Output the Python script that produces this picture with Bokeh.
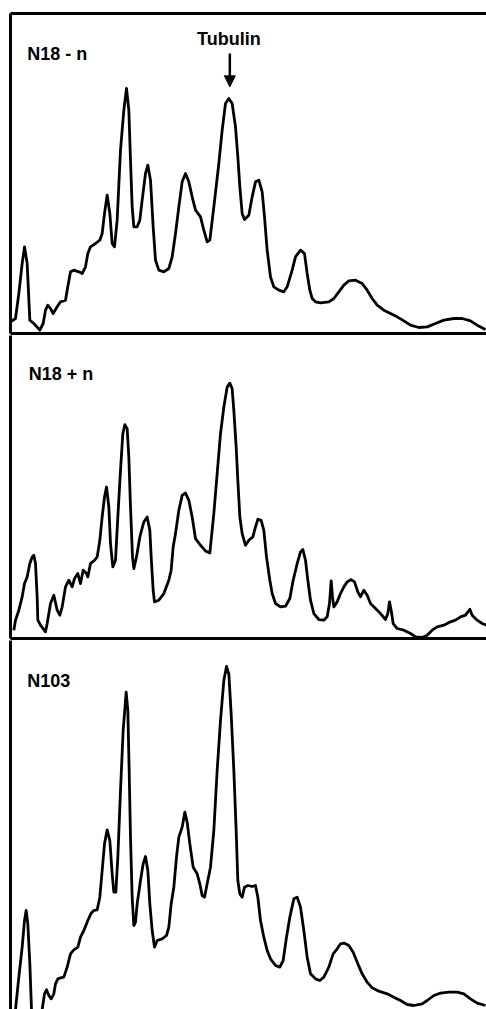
from bokeh.plotting import figure
from bokeh.layouts import column
from bokeh.models import LinearAxis, FixedTicker, Arrow, NormalHead, Range1d
from bokeh.core.properties import value
from bokeh.embed import file_html
from bokeh.resources import INLINE

# --- densitometer traces (position along gel, absorbance in arbitrary units) ---
n18_minus_x = [30, 45, 55, 65, 72, 80, 88, 100, 118, 128, 135, 142, 150, 158, 170, 180, 195, 200, 210, 220,
               235, 245, 255, 262, 270, 285, 298, 305, 312, 320, 328, 335, 342, 350, 360, 370, 378, 385, 390, 395,
               400, 410, 418, 425, 435, 442, 450, 458, 465, 475, 490, 505, 515, 525, 535, 545, 555, 565, 575, 585,
               600, 610, 620, 628, 640, 655, 665, 675, 685, 695, 705, 712, 718, 725, 732, 745, 755, 765, 775, 785,
               792, 800, 810, 820, 835, 850, 860, 875, 885, 900, 912, 920, 928, 935, 945, 960, 985, 1000, 1015, 1030,
               1045, 1065, 1085, 1100, 1115, 1130, 1150, 1170, 1190, 1210, 1230, 1255, 1280, 1305, 1330, 1360, 1385, 1410, 1430, 1455]
n18_minus_y = [35, 45, 120, 210, 260, 210, 40, 30, 10, 30, 70, 85, 75, 60, 80, 95, 100, 130, 185, 190,
               185, 180, 200, 240, 260, 270, 280, 300, 360, 415, 360, 270, 260, 340, 550, 670, 735, 670, 520, 380,
               320, 320, 340, 400, 480, 505, 460, 320, 220, 190, 185, 195, 230, 300, 380, 455, 480, 455, 410, 370,
               350, 310, 275, 280, 380, 510, 610, 690, 705, 690, 620, 530, 440, 360, 342, 355, 410, 455, 460, 425,
               350, 250, 170, 140, 130, 125, 140, 190, 230, 250, 240, 180, 130, 105, 95, 92, 95, 105, 125, 145,
               158, 160, 150, 130, 105, 85, 70, 60, 50, 38, 25, 18, 20, 30, 40, 45, 45, 38, 25, 12]

n18_plus_x = [40, 45, 55, 65, 72, 80, 88, 95, 100, 105, 110, 112, 120, 135, 140, 150, 160, 170, 178, 185,
              195, 205, 215, 222, 232, 240, 248, 258, 262, 270, 282, 290, 298, 305, 312, 318, 325, 330, 337, 345,
              352, 360, 367, 373, 380, 385, 390, 396, 400, 408, 418, 430, 440, 448, 452, 458, 462, 475, 490, 505,
              512, 518, 525, 535, 545, 555, 565, 575, 585, 600, 615, 628, 640, 650, 660, 670, 680, 688, 695, 700,
              707, 712, 718, 725, 735, 745, 757, 765, 772, 782, 790, 798, 808, 815, 825, 840, 855, 868, 878, 890,
              900, 907, 915, 922, 930, 940, 955, 970, 980, 987, 992, 996, 1000, 1010, 1020, 1030, 1040, 1052, 1062, 1072,
              1080, 1090, 1100, 1110, 1125, 1140, 1155, 1162, 1167, 1172, 1178, 1190, 1210, 1230, 1245, 1265, 1280, 1295, 1310, 1330,
              1350, 1365, 1380, 1395, 1408, 1415, 1430, 1445, 1458]
n18_plus_y = [25, 55, 85, 125, 165, 185, 225, 245, 250, 225, 125, 55, 40, 20, 45, 105, 130, 85, 70, 95,
              155, 175, 155, 180, 195, 165, 205, 195, 185, 225, 235, 245, 295, 365, 425, 455, 395, 285, 215, 235,
              365, 505, 615, 642, 630, 545, 395, 245, 210, 245, 305, 350, 365, 325, 245, 145, 110, 115, 135, 175,
              205, 275, 315, 385, 430, 437, 415, 365, 300, 280, 263, 257, 375, 495, 615, 695, 755, 767, 750, 685,
              575, 475, 365, 315, 280, 295, 305, 335, 358, 355, 325, 245, 175, 135, 105, 95, 97, 120, 175, 225,
              260, 267, 235, 175, 115, 75, 57, 55, 65, 105, 173, 125, 95, 110, 135, 155, 170, 177, 170, 140,
              125, 145, 130, 105, 90, 75, 57, 75, 110, 85, 45, 30, 25, 15, 5, 3, 10, 25, 35, 40,
              50, 55, 65, 70, 88, 70, 55, 45, 40]

n103_x = [45, 55, 65, 72, 77, 82, 88, 93, 100, 115, 125, 132, 138, 145, 152, 160, 165, 172, 180, 190,
          200, 210, 220, 232, 240, 250, 262, 272, 280, 290, 298, 305, 312, 320, 328, 335, 340, 346, 352, 360,
          368, 377, 382, 386, 390, 395, 400, 405, 410, 420, 428, 435, 442, 448, 455, 462, 470, 485, 498, 505,
          512, 520, 528, 535, 545, 553, 560, 568, 578, 590, 598, 605, 612, 620, 630, 640, 650, 660, 670, 678,
          685, 692, 700, 707, 712, 718, 725, 732, 742, 755, 765, 772, 780, 790, 800, 810, 825, 838, 848, 858,
          868, 880, 890, 900, 910, 920, 930, 945, 958, 970, 985, 998, 1010, 1020, 1032, 1045, 1058, 1072, 1085, 1100,
          1115, 1135, 1160, 1180, 1200, 1220, 1240, 1265, 1280, 1300, 1320, 1345, 1370, 1390, 1410, 1430, 1455]
n103_y = [8, 105, 195, 275, 305, 265, 145, 8, 0, 0, 8, 55, 67, 50, 40, 55, 85, 100, 103, 105,
          135, 175, 187, 195, 225, 245, 275, 297, 305, 307, 345, 425, 505, 547, 515, 415, 360, 360, 465, 665,
          845, 960, 905, 725, 525, 345, 260, 270, 325, 395, 445, 467, 425, 325, 245, 195, 215, 220, 230, 255,
          325, 375, 465, 525, 555, 600, 570, 505, 435, 415, 385, 350, 345, 385, 435, 545, 725, 875, 995, 1037,
          1015, 895, 725, 545, 395, 355, 345, 375, 380, 377, 380, 345, 275, 225, 185, 160, 140, 135, 155, 225,
          285, 340, 345, 315, 245, 165, 115, 100, 95, 105, 135, 175, 190, 205, 207, 200, 180, 145, 115, 90,
          73, 63, 55, 45, 35, 23, 20, 25, 35, 50, 57, 60, 60, 55, 40, 27, 20]

panel_labels = ["N18 - n", "N18 + n", "N103"]
marker_label = "Tubulin"
marker_pos = 688

FONT = value("Liberation Sans")
W = 486


def make_panel(h, yr, mtop, mbot, top_axis, bottom_axis):
    p = figure(width=W, height=h, output_backend="svg", toolbar_location=None,
               x_axis_location=None, y_axis_location=None,
               x_range=Range1d(30, 30 + 476 * 3), y_range=Range1d(*yr),
               min_border_left=10, min_border_right=0, min_border_top=mtop, min_border_bottom=mbot)
    p.outline_line_color = None
    p.grid.visible = False
    p.background_fill_color = "white"
    p.border_fill_color = "white"
    locs = ["left"] + (["above"] if top_axis else []) + (["below"] if bottom_axis else [])
    for loc in locs:
        ax = LinearAxis(ticker=FixedTicker(ticks=[]), axis_line_width=3, axis_line_color="black",
                        major_tick_out=0, major_tick_in=0, minor_tick_out=0, minor_tick_in=0,
                        major_label_text_font_size="0px", major_label_standoff=0)
        p.add_layout(ax, loc)
    return p


p1 = make_panel(335, (0, 960), 13, 2, True, True)
p1.line(n18_minus_x, n18_minus_y, line_color="black", line_width=2.8, line_join="round")
p1.text(x=[80], y=[838], text=[panel_labels[0]], text_font=FONT, text_font_style="bold",
        text_font_size="18px", text_baseline="middle", text_align="left", text_color="black")
p1.text(x=[marker_pos - 3], y=[883], text=[marker_label], text_font=FONT, text_font_style="bold",
        text_font_size="18px", text_baseline="middle", text_align="center", text_color="black")
p1.add_layout(Arrow(end=NormalHead(size=11, fill_color="black", line_color="black"),
                    x_start=marker_pos, y_start=840, x_end=marker_pos, y_end=740,
                    line_width=2.5, line_color="black"))

p2 = make_panel(305, (0, 910), 0, 2, False, True)
p2.line(n18_plus_x, n18_plus_y, line_color="black", line_width=2.8, line_join="round")
p2.text(x=[85], y=[793], text=[panel_labels[1]], text_font=FONT, text_font_style="bold",
        text_font_size="18px", text_baseline="middle", text_align="left", text_color="black")

p3 = make_panel(369, (8, 1115), 0, 0, False, False)
p3.line(n103_x, n103_y, line_color="black", line_width=2.8, line_join="round")
p3.text(x=[80], y=[993], text=[panel_labels[2]], text_font=FONT, text_font_style="bold",
        text_font_size="18px", text_baseline="middle", text_align="left", text_color="black")

layout = column(p1, p2, p3, spacing=0)
open("out.html", "w").write(file_html(layout, INLINE))
